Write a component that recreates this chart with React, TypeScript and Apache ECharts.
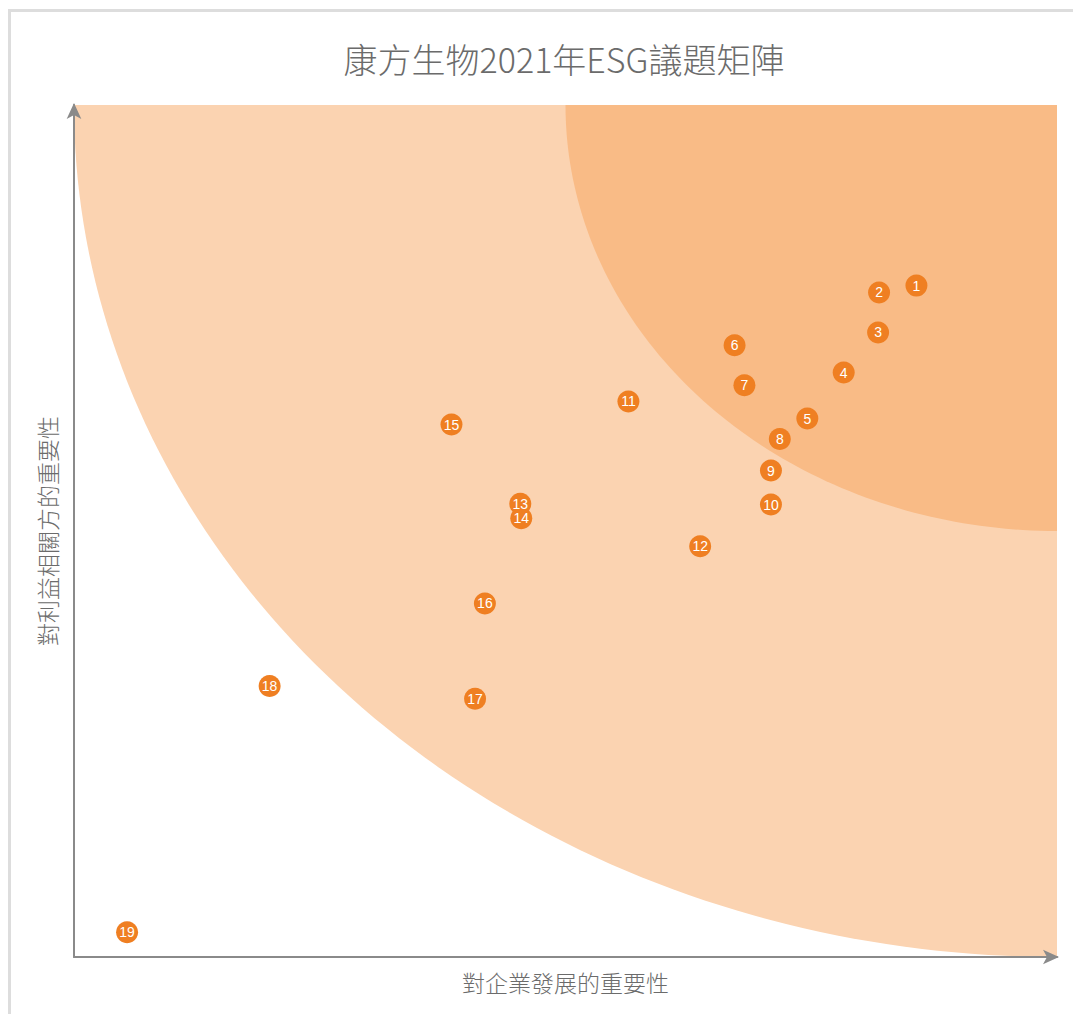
import React, { useEffect, useRef } from "react";
import * as echarts from "echarts";

const titleText = "康方生物2021年ESG議題矩陣";
const xAxisName = "對企業發展的重要性";
const yAxisName = "對利益相關方的重要性";

const issueIds = ["1","2","3","4","5","6","7","8","9","10","11","12","13","14","15","16","17","18","19"];
const businessImportance = [8.57, 8.19, 8.18, 7.83, 7.46, 6.72, 6.82, 7.18, 7.09, 7.09, 5.64, 6.37, 4.54, 4.55, 3.84, 4.18, 4.08, 1.99, 0.54];
const stakeholderImportance = [7.88, 7.80, 7.33, 6.86, 6.32, 7.18, 6.71, 6.08, 5.71, 5.31, 6.52, 4.82, 5.32, 5.15, 6.25, 4.15, 3.03, 3.18, 0.29];

const zoneRadii = [10, 5];
const zoneColors = ["#FBD3B1", "#F9BB86"];
const axisMax = 10;

export default function App() {
  const ref = useRef<HTMLDivElement>(null);
  useEffect(() => {
    if (!ref.current) return;
    const chart = echarts.init(ref.current, null, { renderer: "svg" });

    const zoneSeries = zoneRadii.map((r, i) => ({
      type: "custom",
      silent: true,
      z: 1,
      data: [[axisMax, axisMax]],
      renderItem: (params: any, api: any) => {
        const pts: number[][] = [api.coord([axisMax, axisMax])];
        const n = 90;
        for (let k = 0; k <= n; k++) {
          const t = (k / n) * Math.PI / 2;
          pts.push(api.coord([axisMax - r * Math.cos(t), axisMax - r * Math.sin(t)]));
        }
        return {
          type: "polygon",
          shape: { points: pts },
          style: { fill: zoneColors[i] },
        };
      },
    }));

    const points = issueIds.map((id, i) => ({
      value: [businessImportance[i], stakeholderImportance[i]],
      name: id,
    }));

    const axisCommon = {
      type: "value",
      min: 0,
      max: axisMax,
      nameLocation: "middle",
      z: 10,
      axisLine: {
        show: true,
        symbol: ["none", "arrow"],
        symbolSize: [11, 16],
        symbolOffset: [0, 2],
        lineStyle: { color: "#8a8a8a", width: 2 },
      },
      axisTick: { show: false },
      axisLabel: { show: false },
      splitLine: { show: false },
    };

    chart.setOption({
      animation: false,
      title: {
        text: titleText,
        left: 559,
        textAlign: "center",
        top: 36,
        textStyle: {
          fontSize: 34,
          fontWeight: 300,
          color: "#6b6b6b",
          fontFamily: "'Noto Sans CJK TC', 'Noto Sans', sans-serif",
        },
      },
      grid: { left: 74, top: 105, right: 16, bottom: 57 },
      xAxis: {
        ...axisCommon,
        name: xAxisName,
        nameGap: 13,
        nameTextStyle: {
          fontSize: 23,
          fontWeight: 300,
          color: "#6b6b6b",
          fontFamily: "'Noto Sans CJK TC', sans-serif",
          verticalAlign: "top",
        },
      },
      yAxis: {
        ...axisCommon,
        name: yAxisName,
        nameGap: 16,
        nameTextStyle: {
          fontSize: 23,
          fontWeight: 300,
          color: "#6b6b6b",
          fontFamily: "'Noto Sans CJK TC', sans-serif",
        },
      },
      series: [
        ...zoneSeries,
        {
          type: "scatter",
          z: 5,
          symbol: "circle",
          symbolSize: 22,
          itemStyle: { color: "#EF7F22", opacity: 1 },
          label: {
            show: true,
            position: "inside",
            formatter: (p: any) => p.name,
            color: "#ffffff",
            fontSize: 14,
            lineHeight: 12,
            fontFamily: "Liberation Sans, Arial, sans-serif",
          },
          data: points,
        },
      ],
    });
    return () => chart.dispose();
  }, []);

  return (
    <div style={{ position: "fixed", left: 0, top: 0, width: 1073, height: 1014, overflow: "hidden", background: "#fff" }}>
      <div
        style={{
          position: "absolute",
          left: 8,
          top: 9,
          width: 1200,
          height: 1200,
          borderLeft: "3px solid #dddddd",
          borderTop: "3px solid #dddddd",
        }}
      />
      <div ref={ref} style={{ position: "absolute", left: 0, top: 0, width: 1073, height: 1014 }} />
    </div>
  );
}
